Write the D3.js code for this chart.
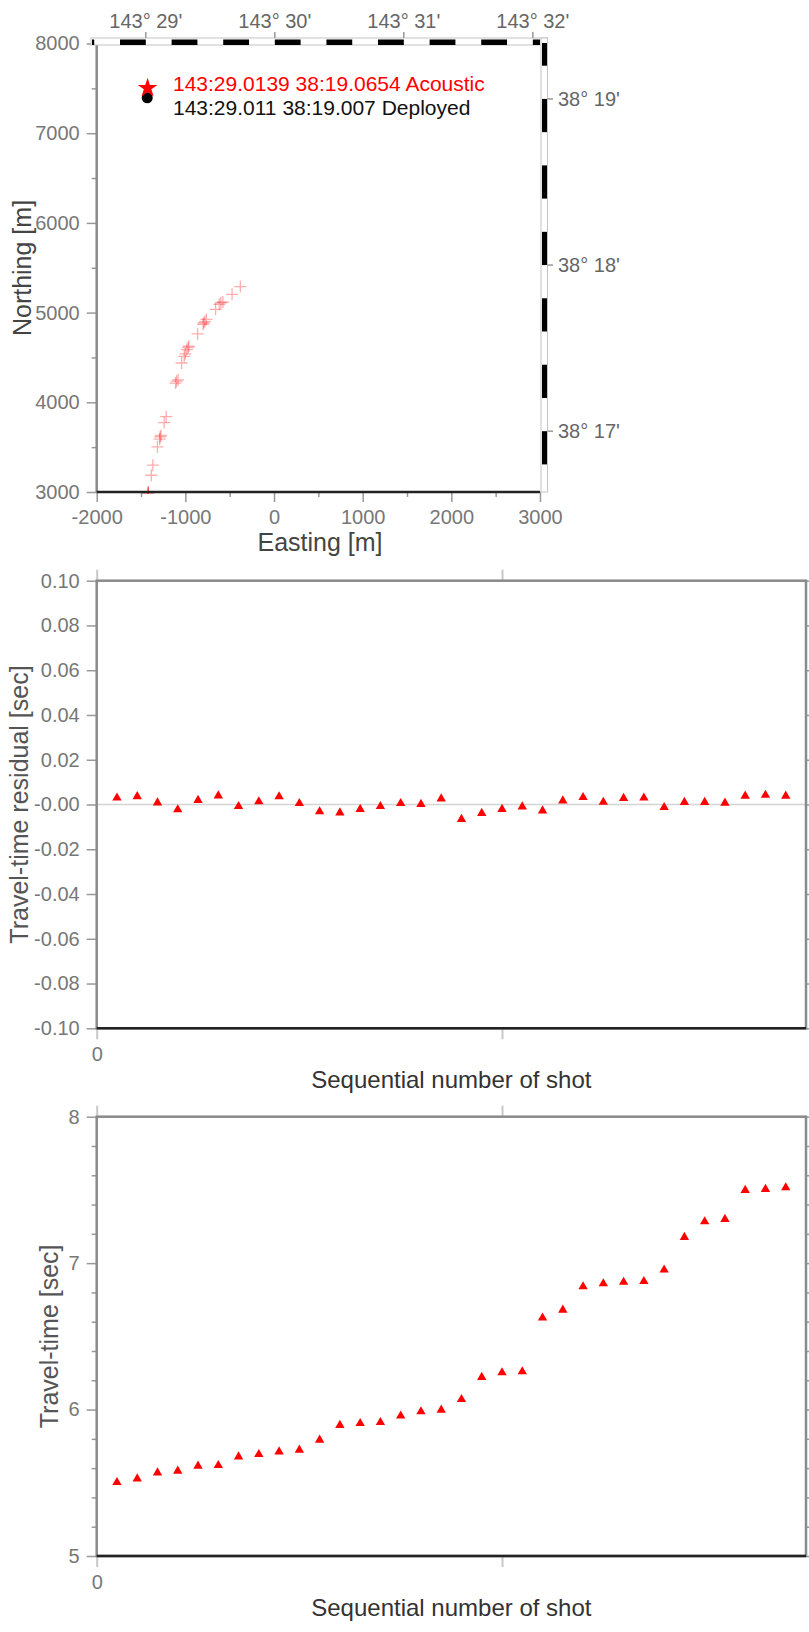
<!DOCTYPE html>
<html>
<head>
<meta charset="utf-8">
<script src="https://cdn.jsdelivr.net/npm/d3@7"></script>
<style>
  body { margin: 0; background: #fff; }
  svg { display: block; font-family: "Liberation Sans", Arial, sans-serif; }
</style>
</head>
<body>
<svg width="809" height="1632"></svg>
<script>
// ---- data ----
// shot positions (easting / northing, metres)
const shotEasting = [-1420, -1415, -1425, -1418, -1384, -1367, -1315, -1290, -1285, -1275, -1239, -1216,
    -1111, -1100, -1082, -1042, -1013, -1000, -984, -970, -961, -862, -800, -792, -780, -763,
    -659, -618, -600, -577, -473, -380];
const shotNorthing = [3000, 2988, 2975, 2995, 3187, 3299, 3504, 3590, 3615, 3630, 3773, 3840,
    4214, 4235, 4251, 4438, 4513, 4540, 4588, 4610, 4625, 4763, 4870, 4886, 4900, 4924,
    5036, 5092, 5110, 5118, 5204, 5290];

// station positions
const acousticPos = { e: -1426, n: 7503, label: "143:29.0139 38:19.0654 Acoustic" };
const deployedPos = { e: -1430, n: 7395, lonMin: 29.011, latMin: 19.007, label: "143:29.011 38:19.007 Deployed" };

// travel-time residuals [sec] per shot
const residuals = [0.0030, 0.0036, 0.0008, -0.0023, 0.0019, 0.0039, -0.0008, 0.0013, 0.0035, 0.0005,
    -0.0032, -0.0037, -0.0021, -0.0008, 0.0005, 0.0001, 0.0026, -0.0066, -0.0039, -0.0021,
    -0.0010, -0.0028, 0.0017, 0.0032, 0.0011, 0.0028, 0.0030, -0.0013, 0.0010, 0.0010,
    0.0007, 0.0038, 0.0042, 0.0038];

// travel-times [sec] per shot
const travelTimes = [5.503, 5.528, 5.569, 5.581, 5.615, 5.619, 5.678, 5.694, 5.712, 5.724,
    5.792, 5.893, 5.906, 5.913, 5.957, 5.986, 5.997, 6.070, 6.221, 6.252,
    6.259, 6.626, 6.680, 6.840, 6.860, 6.870, 6.876, 6.954, 7.177, 7.284,
    7.300, 7.498, 7.505, 7.516];

const shotNumbers = d3.range(1, residuals.length + 1);

// tick values
const eastTicks = [-2000, -1000, 0, 1000, 2000, 3000];
const eastMinor = [-1500, -500, 500, 1500, 2500];
const northTicks = [3000, 4000, 5000, 6000, 7000, 8000];
const northMinor = [3500, 4500, 5500, 6500, 7500];
const lonTicks = [29, 30, 31, 32];   // minutes past 143 deg
const latTicks = [17, 18, 19];       // minutes past 38 deg
const residTicks = [-0.1, -0.08, -0.06, -0.04, -0.02, 0, 0.02, 0.04, 0.06, 0.08, 0.1];
const ttTicks = [5, 6, 7, 8];
const ttMinor = [5.2, 5.4, 5.6, 5.8, 6.2, 6.4, 6.6, 6.8, 7.2, 7.4, 7.6, 7.8];
const shotTicks = [0, 20];

// ---- setup ----
const svg = d3.select("svg");
const FONT = "Liberation Sans, Arial, sans-serif";
const frameGray = "#8a8a8a";
const tickGray = "#999";
const labelGray = "#777";
const plain = d => String(d);   // ascii hyphen for negatives

function styleAxis(g, color, width, fontSize) {
    g.attr("font-family", FONT).attr("font-size", fontSize || 20);
    g.select(".domain").remove();
    g.selectAll(".tick line").attr("stroke", color).attr("stroke-width", width);
    g.selectAll(".tick text").attr("fill", labelGray);
}

// ================= top panel: map =================
const xMap = d3.scaleLinear().domain([-2000, 3000]).range([96.7, 540]);
const yMap = d3.scaleLinear().domain([3000, 8000]).range([492, 43.5]);

// geographic minutes -> easting / northing
const mPerMinLon = 1455, mPerMinLat = 1852;
const lonToE = m => deployedPos.e + (m - deployedPos.lonMin) * mPerMinLon;
const latToN = m => deployedPos.n + (m - deployedPos.latMin) * mPerMinLat;

svg.append("clipPath").attr("id", "mapClip")
    .append("rect").attr("x", 96.7).attr("y", 43.5)
    .attr("width", 540 - 96.7).attr("height", 492 - 43.5 + 2);

// shots
const cross = svg.append("g").attr("clip-path", "url(#mapClip)");
shotEasting.forEach((e, i) => {
    const cx = xMap(e), cy = yMap(shotNorthing[i]);
    cross.append("path")
        .attr("d", `M${cx - 6},${cy}H${cx + 6}M${cx},${cy - 6}V${cy + 6}`)
        .attr("stroke", "red")
        .attr("stroke-opacity", 0.32)
        .attr("stroke-width", 1.3)
        .attr("fill", "none");
});

// left axis
svg.append("g").attr("transform", "translate(96.7,0)")
    .call(d3.axisLeft(yMap).tickValues(northMinor).tickSize(5).tickFormat(""))
    .call(g => styleAxis(g, tickGray, 1.5));
svg.append("g").attr("transform", "translate(96.7,0)")
    .call(d3.axisLeft(yMap).tickValues(northTicks).tickSize(10).tickPadding(7).tickFormat(plain))
    .call(g => styleAxis(g, tickGray, 1.5));
svg.append("line").attr("x1", 96.7).attr("x2", 96.7).attr("y1", 43.5).attr("y2", 492)
    .attr("stroke", frameGray).attr("stroke-width", 2.5);

// bottom axis
svg.append("g").attr("transform", "translate(0,492)")
    .call(d3.axisBottom(xMap).tickValues(eastMinor).tickSize(5).tickFormat(""))
    .call(g => styleAxis(g, tickGray, 1.5));
svg.append("g").attr("transform", "translate(0,492)")
    .call(d3.axisBottom(xMap).tickValues(eastTicks).tickSize(10).tickPadding(7.5).tickFormat(plain))
    .call(g => styleAxis(g, tickGray, 1.5));
svg.append("line").attr("x1", 96.7).attr("x2", 540).attr("y1", 492).attr("y2", 492)
    .attr("stroke", "#222").attr("stroke-width", 2.5);

// fancy geographic frame (top and right)
const topBand = { x0: 91, x1: 547.5, y0: 38, y1: 45 };
const rightBand = { x0: 541, x1: 547.5, y0: 38, y1: 492 };
svg.append("rect").attr("x", topBand.x0).attr("y", topBand.y0)
    .attr("width", topBand.x1 - topBand.x0).attr("height", topBand.y1 - topBand.y0)
    .attr("fill", "#fff").attr("stroke", "#c4c4c4").attr("stroke-width", 1);
svg.append("rect").attr("x", rightBand.x0).attr("y", rightBand.y0)
    .attr("width", rightBand.x1 - rightBand.x0).attr("height", rightBand.y1 - rightBand.y0)
    .attr("fill", "#fff").attr("stroke", "#c4c4c4").attr("stroke-width", 1);

for (let j = -2; j <= 17; j += 2) {
    const a = 28.8 + 0.2 * j;
    let xa = Math.max(xMap(lonToE(a)), topBand.x0 + 1);
    let xb = Math.min(xMap(lonToE(a + 0.2)), 540);
    if (xb > xa) {
        svg.append("rect").attr("x", xa).attr("y", topBand.y0 + 1.5)
            .attr("width", xb - xa).attr("height", topBand.y1 - topBand.y0 - 1.5)
            .attr("fill", "#000");
    }
}
for (let j = -8; j <= 2; j++) {
    const a = 18.8 + 0.4 * j;
    let ya = Math.max(yMap(latToN(a + 0.2)), 43);
    let yb = Math.min(yMap(latToN(a)), rightBand.y1);
    if (yb > ya) {
        svg.append("rect").attr("x", rightBand.x0 + 1).attr("y", ya)
            .attr("width", rightBand.x1 - rightBand.x0 - 1.5).attr("height", yb - ya)
            .attr("fill", "#000");
    }
}

// geographic ticks and labels
lonTicks.forEach(m => {
    const x = xMap(lonToE(m));
    svg.append("line").attr("x1", x).attr("x2", x).attr("y1", 32).attr("y2", 38)
        .attr("stroke", tickGray).attr("stroke-width", 1.5);
    svg.append("text").attr("x", x).attr("y", 28).attr("text-anchor", "middle")
        .attr("font-size", 20).attr("fill", "#666").text(`143° ${m}'`);
});
latTicks.forEach(m => {
    const y = yMap(latToN(m));
    svg.append("line").attr("x1", 547.5).attr("x2", 553).attr("y1", y).attr("y2", y)
        .attr("stroke", tickGray).attr("stroke-width", 1.5);
    svg.append("text").attr("x", 558).attr("y", y).attr("dy", "0.35em")
        .attr("font-size", 20).attr("fill", "#666").text(`38° ${m}'`);
});

// stations
svg.append("circle")
    .attr("cx", xMap(deployedPos.e)).attr("cy", yMap(deployedPos.n))
    .attr("r", 5.5).attr("fill", "#000");
svg.append("path")
    .attr("transform", `translate(${xMap(acousticPos.e)},${yMap(acousticPos.n)})`)
    .attr("d", d3.symbol(d3.symbolStar, 120)())
    .attr("fill", "red");
svg.append("text").attr("x", 173).attr("y", 91).attr("font-size", 21)
    .attr("fill", "red").text(acousticPos.label);
svg.append("text").attr("x", 173).attr("y", 115).attr("font-size", 21)
    .attr("fill", "#111").text(deployedPos.label);

// axis titles
svg.append("text").attr("transform", "translate(31,268) rotate(-90)")
    .attr("text-anchor", "middle").attr("font-size", 25).attr("fill", "#444")
    .text("Northing [m]");
svg.append("text").attr("x", 320).attr("y", 551)
    .attr("text-anchor", "middle").attr("font-size", 25).attr("fill", "#444")
    .text("Easting [m]");

// ================= shot panels =================
const xShot = d3.scaleLinear().domain([0, 35]).range([96.7, 806]);
const tri = d3.symbol(d3.symbolTriangle, 38);

function shotPanel(yScale, top, bottom, major, minor, fmt, values, yTitle, titleX) {
    const left = 96.7, right = 806;

    // zero line (only meaningful when 0 is in domain)
    const [d0, d1] = yScale.domain();
    if (d0 < 0 && d1 > 0) {
        svg.append("line").attr("x1", left).attr("x2", right)
            .attr("y1", yScale(0)).attr("y2", yScale(0))
            .attr("stroke", "#d4d4d4").attr("stroke-width", 1.5);
    }

    // left axis
    if (minor) {
        svg.append("g").attr("transform", `translate(${left},0)`)
            .call(d3.axisLeft(yScale).tickValues(minor).tickSize(5).tickFormat(""))
            .call(g => styleAxis(g, tickGray, 1.5));
        svg.append("g").attr("transform", `translate(${right},0)`)
            .call(d3.axisRight(yScale).tickValues(minor).tickSize(4).tickFormat(""))
            .call(g => styleAxis(g, tickGray, 1.5));
    }
    svg.append("g").attr("transform", `translate(${left},0)`)
        .call(d3.axisLeft(yScale).tickValues(major).tickSize(10).tickPadding(7).tickFormat(fmt))
        .call(g => styleAxis(g, tickGray, 1.5));
    svg.append("g").attr("transform", `translate(${right},0)`)
        .call(d3.axisRight(yScale).tickValues(major).tickSize(6).tickFormat(""))
        .call(g => styleAxis(g, tickGray, 1.5));

    // shot-number ticks top and bottom
    svg.append("g").attr("transform", `translate(0,${bottom})`)
        .call(d3.axisBottom(xShot).tickValues(shotTicks).tickSize(11).tickPadding(8)
            .tickFormat(d => d === 0 ? "0" : ""))
        .call(g => styleAxis(g, "#c8c8c8", 2));
    svg.append("g").attr("transform", `translate(0,${top})`)
        .call(d3.axisTop(xShot).tickValues(shotTicks).tickSize(11).tickFormat(""))
        .call(g => styleAxis(g, "#c8c8c8", 2));

    // frame
    svg.append("rect").attr("x", left).attr("y", top)
        .attr("width", right - left).attr("height", bottom - top)
        .attr("fill", "none").attr("stroke", frameGray).attr("stroke-width", 2.5);
    svg.append("line").attr("x1", left).attr("x2", right).attr("y1", bottom).attr("y2", bottom)
        .attr("stroke", "#222").attr("stroke-width", 2.5);

    // markers
    svg.append("g").selectAll("path")
        .data(values)
        .join("path")
        .attr("transform", (d, i) => `translate(${xShot(shotNumbers[i])},${yScale(d)})`)
        .attr("d", tri)
        .attr("fill", "red");

    // titles
    svg.append("text").attr("transform", `translate(${titleX},${(top + bottom) / 2}) rotate(-90)`)
        .attr("text-anchor", "middle").attr("font-size", 25).attr("fill", "#555")
        .text(yTitle);
    svg.append("text").attr("x", (left + right) / 2).attr("y", bottom + 60)
        .attr("text-anchor", "middle").attr("font-size", 24).attr("fill", "#333")
        .text("Sequential number of shot");
}

const yRes = d3.scaleLinear().domain([-0.1, 0.1]).range([1028.3, 580.7]);
shotPanel(yRes, 580.7, 1028.3, residTicks, null,
    d => d === 0 ? "-0.00" : d.toFixed(2), residuals, "Travel-time residual [sec]", 28);

const yTT = d3.scaleLinear().domain([5, 8]).range([1556, 1116.7]);
shotPanel(yTT, 1116.7, 1556, ttTicks, ttMinor,
    plain, travelTimes, "Travel-time [sec]", 58);
</script>
</body>
</html>
